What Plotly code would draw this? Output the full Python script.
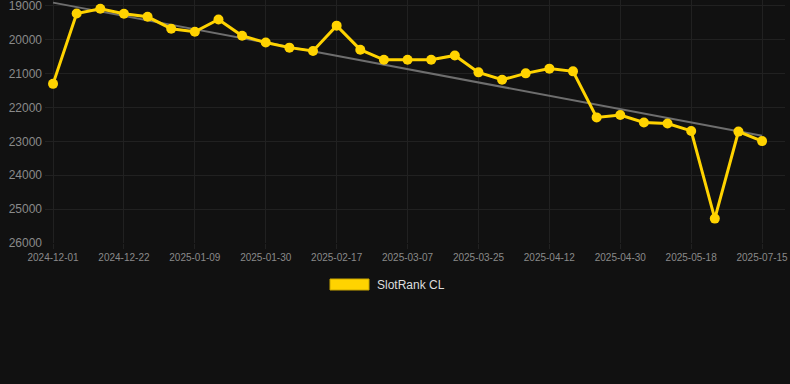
import plotly.graph_objects as go

dates = [
    "2024-12-01", "2024-12-08", "2024-12-15", "2024-12-22", "2024-12-28", "2025-01-03",
    "2025-01-09", "2025-01-16", "2025-01-23", "2025-01-30", "2025-02-05", "2025-02-11",
    "2025-02-17", "2025-02-23", "2025-03-01", "2025-03-07", "2025-03-13", "2025-03-19",
    "2025-03-25", "2025-03-31", "2025-04-06", "2025-04-12", "2025-04-18", "2025-04-24",
    "2025-04-30", "2025-05-06", "2025-05-12", "2025-05-18", "2025-05-24", "2025-07-09",
    "2025-07-15",
]
ranks = [
    21300, 19220, 19080, 19230, 19320, 19670, 19760, 19400, 19880, 20080, 20230, 20330,
    19580, 20290, 20590, 20590, 20590, 20460, 20960, 21180, 20990, 20850, 20930, 22290,
    22220, 22440, 22470, 22690, 25280, 22710, 22990,
]
trend_values = [18900, 22830]
series_name = "SlotRank CL"
tick_dates = dates[::3]

BG = "#111111"
GRID = "#212121"
TICK = "#8a8a8a"
GOLD = "#ffd300"

fig = go.Figure()
fig.add_trace(go.Scatter(
    x=[dates[0], dates[-1]], y=trend_values, mode="lines",
    line=dict(color="#6e6e6e", width=2), hoverinfo="skip", showlegend=False,
))
fig.add_trace(go.Scatter(
    x=dates, y=ranks, mode="lines+markers", name=series_name,
    line=dict(color=GOLD, width=3), marker=dict(color=GOLD, size=10),
    showlegend=False,
))

n = len(dates)
fig.update_layout(
    width=790, height=384,
    paper_bgcolor=BG, plot_bgcolor=BG,
    margin=dict(l=45, r=5, t=0, b=141),
    font=dict(family="Liberation Sans, Arial, sans-serif", color=TICK),
    xaxis=dict(
        type="category", categoryorder="array", categoryarray=dates,
        range=[-0.34, n - 1 + 0.97],
        tickmode="array", tickvals=tick_dates, ticktext=tick_dates,
        showgrid=True, gridcolor=GRID, gridwidth=1,
        ticks="outside", ticklen=5, tickcolor=GRID,
        tickfont=dict(size=10, color=TICK),
        showline=False, zeroline=False,
    ),
    yaxis=dict(
        range=[26000, 18823], tickmode="linear", tick0=19000, dtick=1000,
        tickformat="d", showgrid=True, gridcolor=GRID, gridwidth=1,
        tickfont=dict(size=12, color=TICK), zeroline=False, showline=False,
        ticks="", ticklabelstandoff=2, ticklabeloverflow="allow",
    ),
    shapes=[dict(
        type="rect", xref="paper", yref="paper",
        x0=(330 - 45) / 740, x1=(369 - 45) / 740,
        y0=(243 - 290) / 243, y1=(243 - 279) / 243,
        fillcolor=GOLD, line=dict(width=1, color="#c9a600"),
    )],
    annotations=[dict(
        xref="paper", yref="paper", x=(375 - 45) / 740, y=(243 - 285) / 243,
        text=series_name, showarrow=False, xanchor="left", yanchor="middle",
        font=dict(size=12, color="#dddddd"),
    )],
)

fig.write_html(
    "out.html",
    config={"displayModeBar": False},
    post_script="document.body.style.margin='0';document.body.style.background='#111111';",
)
